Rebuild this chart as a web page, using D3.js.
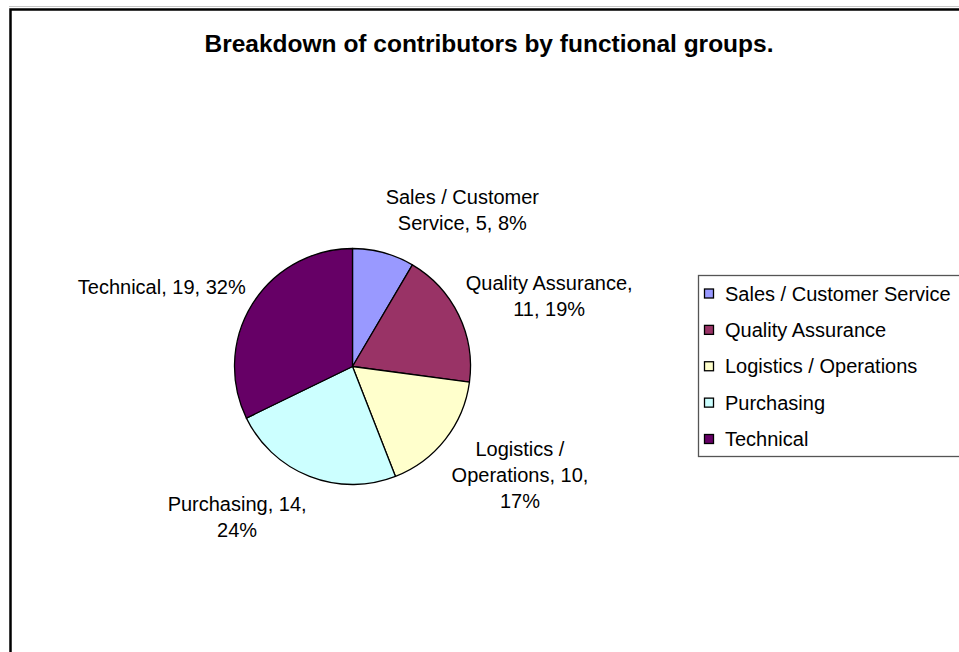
<!DOCTYPE html>
<html>
<head>
<meta charset="utf-8">
<script src="https://cdn.jsdelivr.net/npm/d3@7"></script>
<style>
    body { margin: 0; background: #fff; }
    text { font-family: "Liberation Sans", Arial, sans-serif; fill: #000; }
</style>
</head>
<body>
<div id="chart"></div>
<script>
var categories = ["Sales / Customer Service", "Quality Assurance", "Logistics / Operations", "Purchasing", "Technical"];
var values = [5, 11, 10, 14, 19];
var colors = ["#9999FF", "#993366", "#FFFFCC", "#CCFFFF", "#660066"];
var title = "Breakdown of contributors by functional groups.";

var width = 959, height = 652;
var cx = 352.5, cy = 366.5, radius = 118;
var labelFont = 20, lineHeight = 26, maxLabelWidth = 178;

var svg = d3.select("#chart").append("svg")
    .attr("width", width)
    .attr("height", height);

svg.append("rect")
    .attr("width", width)
    .attr("height", height)
    .attr("fill", "#fff");

// chart area frame (runs off the right and bottom of the picture)
svg.append("line")
    .attr("x1", 9).attr("x2", width)
    .attr("y1", 6.5).attr("y2", 6.5)
    .attr("stroke", "#c8c8c8")
    .attr("stroke-width", 1);
svg.append("rect")
    .attr("x", 10.5).attr("y", 9.5)
    .attr("width", 1000).attr("height", 700)
    .attr("fill", "none")
    .attr("stroke", "#000")
    .attr("stroke-width", 2.5);

svg.append("text")
    .attr("x", 489)
    .attr("y", 52)
    .attr("text-anchor", "middle")
    .attr("font-size", 24.5)
    .attr("font-weight", "bold")
    .text(title);

var total = d3.sum(values);
var pie = d3.pie().sort(null).value(function (d) { return d; });
var arcs = pie(values);
var arc = d3.arc().innerRadius(0).outerRadius(radius);

var g = svg.append("g")
    .attr("transform", "translate(" + cx + "," + cy + ")");

g.selectAll("path")
    .data(arcs)
    .enter().append("path")
    .attr("d", arc)
    .attr("fill", function (d, i) { return colors[i]; })
    .attr("stroke", "#000")
    .attr("stroke-width", 1.3)
    .attr("stroke-linejoin", "round");

// data labels: "name, value, pct%" wrapped like the spreadsheet does
var measure = svg.append("text").attr("font-size", labelFont).attr("visibility", "hidden");
function textWidth(s) {
    measure.text(s);
    return measure.node().getComputedTextLength();
}
function wrap(s) {
    var words = s.split(" ");
    var lines = [];
    var cur = words[0];
    for (var i = 1; i < words.length; i++) {
        var test = cur + " " + words[i];
        if (textWidth(test) > maxLabelWidth) {
            lines.push(cur);
            cur = words[i];
        } else {
            cur = test;
        }
    }
    lines.push(cur);
    return lines;
}

var labels = svg.append("g");
arcs.forEach(function (d, i) {
    var pct = Math.round(values[i] / total * 100);
    var lines = wrap(categories[i] + ", " + values[i] + ", " + pct + "%");
    var w = d3.max(lines, textWidth);
    var h = lines.length * lineHeight;
    var a = (d.startAngle + d.endAngle) / 2;
    var s = Math.sin(a), c = Math.cos(a);
    var px = cx + s * (radius + 8);
    var py = cy - c * (radius + 18);
    var lx = px + (s >= 0 ? 1 : -1) * w / 2;
    var top = py - c * h / 2 - h / 2;
    var t = labels.append("text")
        .attr("font-size", labelFont)
        .attr("text-anchor", "middle");
    lines.forEach(function (line, j) {
        t.append("tspan")
            .attr("x", lx)
            .attr("y", top + (j + 0.5) * lineHeight + 7)
            .text(line);
    });
});
measure.remove();

// legend
var legend = svg.append("g");
legend.append("rect")
    .attr("x", 698.5).attr("y", 275.5)
    .attr("width", 300).attr("height", 181)
    .attr("fill", "#fff")
    .attr("stroke", "#555")
    .attr("stroke-width", 1.3);

var row = d3.scaleLinear().domain([0, categories.length - 1]).range([293.5, 439]);

var item = legend.selectAll("g.item")
    .data(categories)
    .enter().append("g")
    .attr("class", "item")
    .attr("transform", function (d, i) { return "translate(0," + row(i) + ")"; });

item.append("rect")
    .attr("x", 704.5).attr("y", -4.5)
    .attr("width", 9).attr("height", 9)
    .attr("fill", function (d, i) { return colors[i]; })
    .attr("stroke", "#000")
    .attr("stroke-width", 1.3);

item.append("text")
    .attr("x", 725)
    .attr("y", 7)
    .attr("font-size", 20)
    .text(function (d) { return d; });
</script>
</body>
</html>
